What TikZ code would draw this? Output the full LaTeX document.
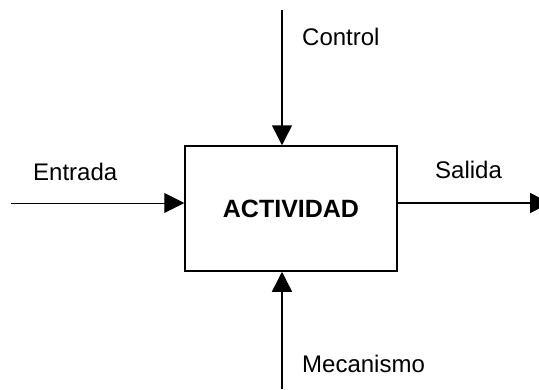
\documentclass[tikz,border=0pt]{standalone}
\usepackage{fontspec}
\setmainfont{Liberation Sans}
\usetikzlibrary{positioning,arrows.meta}
\tikzset{
  act/.style={draw, line width=1.5pt, minimum width=212pt, minimum height=125pt,
              inner sep=0pt, font=\fontsize{25}{30}\selectfont\bfseries},
  flow/.style={-{Triangle[length=20pt,width=20pt]}, line width=1.5pt},
  thin flow/.style={flow, line width=1pt},
  lbl/.style={font=\fontsize{24}{28}\selectfont, inner sep=0pt, anchor=base west},
}

\begin{document}
\begin{tikzpicture}[x=1pt, y=-1pt]

\useasboundingbox (0,0) rectangle (539,389);
\clip (0,0) rectangle (539,389);

%% ── the activity box ──────────────────────────────────────────────────────
\node[act] (actividad) at (291,208.5) {ACTIVIDAD};

%% ── free ends of the four arrows ──────────────────────────────────────────
\coordinate (ctlEnd) at (282,10);
\coordinate (inEnd)  at (11,203);
\coordinate (outEnd) at (550,203);
\coordinate (mecEnd) at (282,389);

%% ── arrows ────────────────────────────────────────────────────────────────
\draw[flow]      (ctlEnd) -- (ctlEnd |- actividad.north);
\draw[thin flow] (inEnd) -- (inEnd -| actividad.west);
\draw[flow]      (outEnd -| actividad.east) -- (outEnd);
\draw[flow]      (mecEnd) -- (mecEnd |- actividad.south);

%% ── labels ────────────────────────────────────────────────────────────────
\node[lbl] (ctlLbl) at (302,45)    {Control};
\node[lbl] (inLbl)  at (33,180.5)  {Entrada};
\node[lbl] (outLbl) at (435,178)   {Salida};
\node[lbl] (mecLbl) at (302,372)   {Mecanismo};

\end{tikzpicture}
\end{document}
